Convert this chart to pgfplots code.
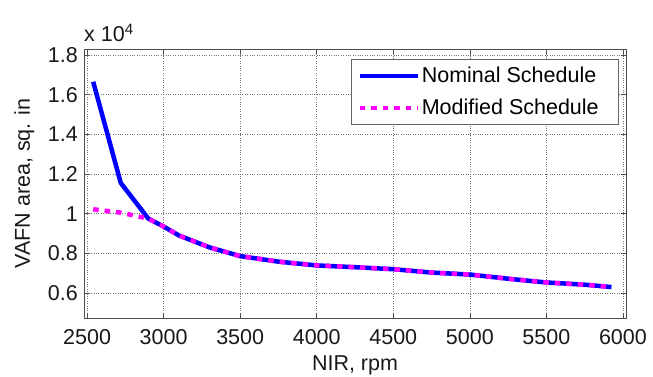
\documentclass[border=0pt]{standalone}
\usepackage{fontspec}
\setmainfont{Liberation Sans}
\usepackage{pgfplots}
\pgfplotsset{compat=1.18}
\definecolor{mblue}{RGB}{0,0,255}
\definecolor{mmag}{RGB}{255,0,255}
\begin{document}
\begin{tikzpicture}
\path[use as bounding box] (-84pt,-59pt) rectangle (569pt,318pt);
\begin{axis}[
  at={(0pt,0pt)}, anchor=south west,
  width=542pt, height=269pt, scale only axis,
  xmin=2480, xmax=6020, ymin=4740, ymax=18300,
  xtick={2500,3000,...,6000},
  ytick={6000,8000,10000,12000,14000,16000,18000},
  yticklabels={0.6,0.8,1,1.2,1.4,1.6,1.8},
  scaled x ticks=false,
  scaled y ticks=false,
  clip mode=individual,
  /pgf/number format/assume math mode=true,
  /pgf/number format/set thousands separator={},
  tick label style={font=\fontsize{21.5}{25}\selectfont, text=black!90},
  xticklabel style={anchor=base, yshift=-27pt},
  yticklabel style={inner xsep=0pt, xshift=-6pt},
  tick align=inside,
  major tick length=5pt,
  tick style={black!70, line width=0.6pt},
  axis line style={black!70, line width=0.8pt},
  grid=major,
  major grid style={dotted, black!55, line width=0.6pt},
  xlabel={NIR, rpm},
  ylabel={VAFN area, sq. in},
  every axis x label/.style={at={(rel axis cs:0.5,0)}, anchor=base, yshift=-52.7pt, font=\fontsize{21.5}{25}\selectfont, text=black!90},
  every axis y label/.style={at={(rel axis cs:0,0.5)}, rotate=90, anchor=base, yshift=54pt, font=\fontsize{21.5}{25}\selectfont, text=black!90},
  legend style={at={(rel axis cs:1,1)}, anchor=north east, xshift=-7pt, yshift=-10pt,
    draw=black!60, line width=0.6pt, inner xsep=6pt, inner ysep=6pt,
    font=\fontsize{21.5}{25}\selectfont, cells={anchor=west}, row sep=11pt},
  legend image code/.code={\draw[#1] (0pt,0pt) -- (58pt,0pt);},
]
\addplot[mblue, line width=4.5pt] coordinates {
(2540,16650) (2720,11550) (2900,9750) (3000,9350) (3100,8900) (3300,8300)
(3500,7860) (3750,7580) (4000,7390) (4250,7300) (4500,7200) (4750,7030)
(5000,6930) (5250,6720) (5500,6530) (5750,6420) (5925,6300)
};
\addlegendentry{Nominal Schedule\hspace*{12pt}}
\addplot[mmag, line width=4.5pt, dash pattern=on 5.5pt off 6pt] coordinates {
(2540,10220) (2720,10050) (2900,9750) (3000,9350) (3100,8900) (3300,8300)
(3500,7860) (3750,7580) (4000,7390) (4250,7300) (4500,7200) (4750,7030)
(5000,6930) (5250,6720) (5500,6530) (5750,6420) (5925,6300)
};
\addlegendentry{Modified Schedule\hspace*{12pt}}
\end{axis}
\node[anchor=south west, inner sep=0pt, font=\fontsize{21.5}{25}\selectfont, text=black!90]
  at (0pt,276pt) {x 10\textsuperscript{4}};
\end{tikzpicture}
\end{document}
